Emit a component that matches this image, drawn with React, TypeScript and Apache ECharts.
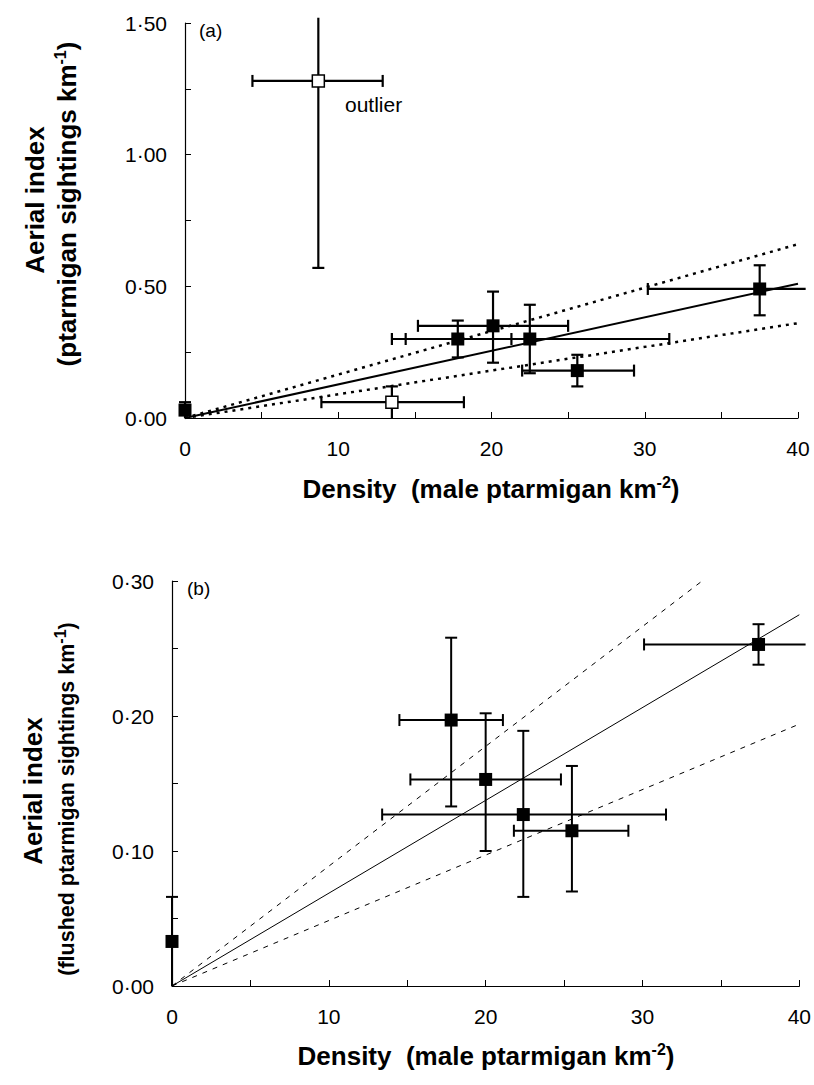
import React, { useEffect, useRef } from "react";
import * as echarts from "echarts";

// ---------- Panel (a): aerial index (ptarmigan sightings km-1) ----------
const aDensity = [0, 17.8, 20.1, 22.5, 25.6, 37.5];
const aIndex = [0.03, 0.3, 0.35, 0.3, 0.18, 0.49];
const aDensityLo = [0, 14.4, 15.2, 13.5, 22.0, 30.2];
const aDensityHi = [0, 21.3, 25.0, 31.6, 29.3, 40.5];
const aIndexLo = [0, 0.23, 0.21, 0.17, 0.12, 0.39];
const aIndexHi = [0.06, 0.37, 0.48, 0.43, 0.24, 0.58];

// open squares (excluded points, incl. the outlier)
const aOpenDensity = [8.7, 13.5];
const aOpenIndex = [1.28, 0.06];
const aOpenDensityLo = [4.4, 8.9];
const aOpenDensityHi = [12.9, 18.2];
const aOpenIndexLo = [0.57, 0];
const aOpenIndexHi = [1.52, 0.12];

// regression line through origin and its confidence limits: [x, y] end points
const aFit = [[0, 0], [40, 0.51]];
const aUpper = [[0, 0], [40, 0.66]];
const aLower = [[0, 0], [40, 0.36]];

// ---------- Panel (b): aerial index (flushed ptarmigan sightings km-1) ----------
const bDensity = [0, 17.8, 20.0, 22.4, 25.5, 37.4];
const bIndex = [0.033, 0.197, 0.153, 0.127, 0.115, 0.253];
const bDensityLo = [0, 14.5, 15.2, 13.4, 21.8, 30.1];
const bDensityHi = [0, 21.1, 24.8, 31.5, 29.1, 40.4];
const bIndexLo = [0, 0.133, 0.1, 0.066, 0.07, 0.238];
const bIndexHi = [0.066, 0.258, 0.202, 0.189, 0.163, 0.268];

const bFit = [[0, 0], [40, 0.275]];
const bUpper = [[0, 0], [33.8, 0.3]];
const bLower = [[0, 0], [40, 0.194]];

// axes
const xTicks = { min: 0, max: 40, interval: 10 };
const aYTicks = { min: 0, max: 1.5, interval: 0.5 };
const bYTicks = { min: 0, max: 0.3, interval: 0.1 };

const FONT = "'Liberation Sans', Arial, Helvetica, sans-serif";

function rows(xs: number[], ys: number[], xl: number[], xh: number[], yl: number[], yh: number[]) {
  return xs.map((x, i) => [x, ys[i], xl[i], xh[i], yl[i], yh[i]]);
}

function errRenderer(xMin: number, xMax: number, yMin: number, yMax: number, lw: number, cap: number) {
  return (params: any, api: any) => {
    const x = api.value(0), y = api.value(1);
    const xl = api.value(2), xh = api.value(3), yl = api.value(4), yh = api.value(5);
    const style = { stroke: "#000", lineWidth: lw, fill: null };
    const ch: any[] = [];
    const seg = (a: number[], b: number[]) =>
      ch.push({ type: "line", shape: { x1: a[0], y1: a[1], x2: b[0], y2: b[1] }, style });
    if (xh > xl) {
      const p1 = api.coord([xl, y]);
      const p2 = api.coord([xh, y]);
      seg(p1, p2);
      if (xl > xMin && xl <= xMax) seg([p1[0], p1[1] - cap / 2], [p1[0], p1[1] + cap / 2]);
      if (xh > xMin && xh <= xMax) seg([p2[0], p2[1] - cap / 2], [p2[0], p2[1] + cap / 2]);
    }
    if (yh > yl) {
      const p1 = api.coord([x, yl]);
      const p2 = api.coord([x, yh]);
      seg(p1, p2);
      if (yl > yMin && yl <= yMax) seg([p1[0] - cap / 2, p1[1]], [p1[0] + cap / 2, p1[1]]);
      if (yh > yMin && yh <= yMax) seg([p2[0] - cap / 2, p2[1]], [p2[0] + cap / 2, p2[1]]);
    }
    return { type: "group", children: ch };
  };
}

const fmtY = (v: number) => v.toFixed(2).replace(".", "\u00B7");

function xAxisCfg(gridIndex: number) {
  return {
    type: "value",
    gridIndex,
    ...xTicks,
    axisLine: { show: true, onZero: false, lineStyle: { color: "#000", width: 1.2 } },
    axisTick: { show: true, inside: true, length: 6, lineStyle: { color: "#000", width: 1 } },
    minorTick: { show: true, splitNumber: 2, length: 6, lineStyle: { color: "#000", width: 1 } },
    splitLine: { show: false },
    axisLabel: { color: "#000", fontSize: 21, fontFamily: FONT, margin: 20 },
  };
}

function yAxisCfg(gridIndex: number, t: any) {
  return {
    type: "value",
    gridIndex,
    ...t,
    axisLine: { show: true, onZero: false, lineStyle: { color: "#000", width: 1.2 } },
    axisTick: { show: true, inside: true, length: 6, lineStyle: { color: "#000", width: 1 } },
    minorTick: { show: true, splitNumber: 2, length: 6, lineStyle: { color: "#000", width: 1 } },
    splitLine: { show: false },
    axisLabel: { color: "#000", fontSize: 21, fontFamily: FONT, margin: 18, formatter: fmtY },
  };
}

function lineSeries(idx: number, data: number[][], type: any, width: number) {
  return {
    type: "line",
    xAxisIndex: idx,
    yAxisIndex: idx,
    data,
    showSymbol: false,
    symbol: "none",
    z: 2,
    clip: true,
    lineStyle: { color: "#000", width, type, opacity: 1 },
  };
}

const titleRich = {
  b: { fontSize: 26, fontWeight: "bold", fontFamily: FONT, color: "#000" },
  s: { fontSize: 21.5, fontWeight: "bold", fontFamily: FONT, color: "#000" },
  sup: { fontSize: 16, fontWeight: "bold", fontFamily: FONT, color: "#000", verticalAlign: "top", padding: [0, 0, 14, 0] },
};

function vText(x: number, y: number, text: string) {
  return {
    type: "text",
    x,
    y,
    rotation: Math.PI / 2,
    style: { text, rich: titleRich, align: "center", verticalAlign: "middle", textAlign: "center", textVerticalAlign: "middle" },
  };
}

function hText(x: number, y: number, text: string) {
  return {
    type: "text",
    x,
    y,
    style: { text, rich: titleRich, align: "center", verticalAlign: "middle", textAlign: "center", textVerticalAlign: "middle" },
  };
}

export default function App() {
  const ref = useRef<HTMLDivElement>(null);
  useEffect(() => {
    document.body.style.margin = "0";
    const chart = echarts.init(ref.current!, undefined, { renderer: "svg" });
    const option: any = {
      animation: false,
      backgroundColor: "#fff",
      grid: [
        { left: 185, top: 23, width: 613, height: 395 },
        { left: 172, top: 581, width: 628, height: 405 },
      ],
      xAxis: [xAxisCfg(0), xAxisCfg(1)],
      yAxis: [yAxisCfg(0, aYTicks), yAxisCfg(1, bYTicks)],
      series: [
        lineSeries(0, aFit, "solid", 2),
        lineSeries(0, aUpper, [3, 5], 2.5),
        lineSeries(0, aLower, [3, 5], 2.5),
        {
          type: "custom",
          xAxisIndex: 0,
          yAxisIndex: 0,
          clip: false,
          z: 3,
          renderItem: errRenderer(0, 40, 0, 1.5, 2.2, 12),
          data: rows(aDensity, aIndex, aDensityLo, aDensityHi, aIndexLo, aIndexHi),
        },
        {
          type: "custom",
          xAxisIndex: 0,
          yAxisIndex: 0,
          clip: false,
          z: 3,
          renderItem: errRenderer(0, 40, 0, 1.5, 2.2, 12),
          data: rows(aOpenDensity, aOpenIndex, aOpenDensityLo, aOpenDensityHi, aOpenIndexLo, aOpenIndexHi),
        },
        {
          type: "scatter",
          xAxisIndex: 0,
          yAxisIndex: 0,
          clip: false,
          z: 4,
          symbol: "rect",
          symbolSize: 13,
          itemStyle: { color: "#000", opacity: 1 },
          data: aDensity.map((x, i) => [x, aIndex[i]]),
        },
        {
          type: "scatter",
          xAxisIndex: 0,
          yAxisIndex: 0,
          clip: false,
          z: 4,
          symbol: "rect",
          symbolSize: 12,
          itemStyle: { color: "#fff", borderColor: "#000", borderWidth: 1.5, opacity: 1 },
          data: aOpenDensity.map((x, i) => [x, aOpenIndex[i]]),
        },
        lineSeries(1, bFit, "solid", 1),
        lineSeries(1, bUpper, [5, 6], 1),
        lineSeries(1, bLower, [5, 6], 1),
        {
          type: "custom",
          xAxisIndex: 1,
          yAxisIndex: 1,
          clip: false,
          z: 3,
          renderItem: errRenderer(0, 40, 0, 0.3, 2, 12),
          data: rows(bDensity, bIndex, bDensityLo, bDensityHi, bIndexLo, bIndexHi),
        },
        {
          type: "scatter",
          xAxisIndex: 1,
          yAxisIndex: 1,
          clip: false,
          z: 4,
          symbol: "rect",
          symbolSize: 13,
          itemStyle: { color: "#000", opacity: 1 },
          data: bDensity.map((x, i) => [x, bIndex[i]]),
        },
      ],
      graphic: [
        { type: "text", x: 199, y: 30, style: { text: "(a)", fontSize: 19, fontFamily: FONT, fill: "#000", textVerticalAlign: "middle", verticalAlign: "middle" } },
        { type: "text", x: 187, y: 588, style: { text: "(b)", fontSize: 19, fontFamily: FONT, fill: "#000", textVerticalAlign: "middle", verticalAlign: "middle" } },
        { type: "text", x: 345, y: 104, style: { text: "outlier", fontSize: 21, fontFamily: FONT, fill: "#000", textVerticalAlign: "middle", verticalAlign: "middle" } },
        vText(35, 200, "{b|Aerial index}"),
        vText(67, 204, "{b|(ptarmigan sightings km}{sup|-1}{b|)}"),
        hText(491, 489, "{b|Density  (male ptarmigan km}{sup|-2}{b|)}"),
        vText(33, 791, "{b|Aerial index}"),
        vText(67, 799, "{s|(flushed ptarmigan sightings km}{sup|-1}{s|)}"),
        hText(486, 1056, "{b|Density  (male ptarmigan km}{sup|-2}{b|)}"),
      ],
    };
    chart.setOption(option);
    return () => chart.dispose();
  }, []);
  return <div ref={ref} style={{ width: 814, height: 1085 }} />;
}
